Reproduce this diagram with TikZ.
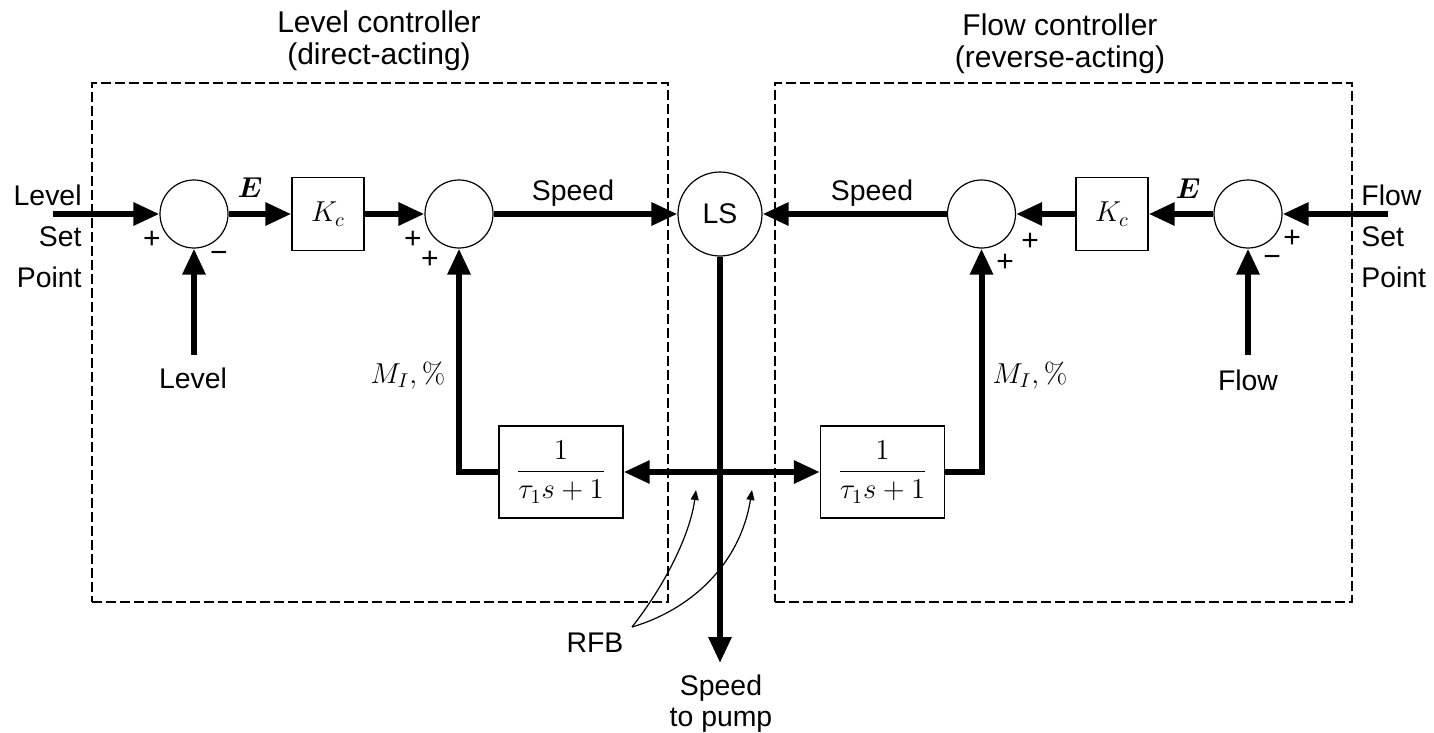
\documentclass[tikz,border=0pt]{standalone}
\usepackage{amsmath,bm}
\usepackage[no-math]{fontspec}
\setmainfont{Liberation Sans}
\usetikzlibrary{arrows.meta}
\tikzset{
  >={Triangle[length=13pt,width=11pt]},
  sig/.style={line width=3pt},
  sumj/.style={circle, draw, line width=0.6pt, minimum size=34pt, inner sep=0pt},
  lsj/.style={circle, draw, line width=0.6pt, minimum size=42pt, inner sep=0pt, font=\fontsize{14.2}{16}\selectfont},
  gainbox/.style={rectangle, draw, line width=0.7pt, minimum width=36pt, minimum height=36.5pt, inner sep=0pt, font=\fontsize{14.4}{16}\selectfont},
  filtbox/.style={rectangle, draw, line width=0.7pt, minimum width=62pt, minimum height=46pt, inner sep=0pt, font=\fontsize{14.4}{16}\selectfont},
  ctrlbox/.style={rectangle, draw, line width=0.6pt, dash pattern=on 5pt off 2pt, minimum height=259.5pt, inner sep=0pt},
  lbl/.style={font=\fontsize{14.2}{16}\selectfont, inner sep=0pt},
  ttl/.style={font=\fontsize{15}{16}\selectfont, inner sep=0pt},
  sgn/.style={font=\fontsize{15}{16}\selectfont, inner sep=0pt},
  rfbarrow/.style={line width=0.6pt, -{Triangle[length=5pt,width=4pt]}},
}
\begin{document}
\begin{tikzpicture}[x=0.5pt,y=-0.5pt]
\useasboundingbox (0,0) rectangle (1434,733);
% controller frames
\node[ctrlbox, minimum width=288pt] (boxL) at (380,342.5) {};
\node[ctrlbox, minimum width=288.5pt] (boxR) at (1063.5,342.5) {};
\node[ttl, anchor=base] (tL1) at (379,33) {Level controller};
\node[ttl, anchor=base] (tL2) at (379,65) {(direct-acting)};
\node[ttl, anchor=base] (tR1) at (1060,36) {Flow controller};
\node[ttl, anchor=base] (tR2) at (1060,68) {(reverse-acting)};
% blocks
\node[sumj] (s1) at (194,214) {};
\node[gainbox] (k1) at (328,214) {$K_c$};
\node[sumj] (s2) at (459,214) {};
\node[lsj] (ls) at (720,214) {LS};
\node[sumj] (s3) at (981.5,214) {};
\node[gainbox] (k2) at (1112,214) {$K_c$};
\node[sumj] (s4) at (1248,214) {};
\node[filtbox] (f1) at (561,472) {$\dfrac{1}{\tau_1 s+1}$};
\node[filtbox] (f2) at (882.5,472) {$\dfrac{1}{\tau_1 s+1}$};
% free ends
\coordinate (lspin) at (53,214);
\coordinate (fspin) at (1388,214);
\coordinate (lvin) at (194,355);
\coordinate (flin) at (1248,355);
\coordinate (pump) at (720,663);
% signals
\draw[sig,->] (lspin) -- (s1);
\draw[sig,->] (s1) -- (k1);
\draw[sig,->] (k1) -- (s2);
\draw[sig,->] (s2) -- (ls);
\draw[sig,->] (lvin) -- (s1);
\draw[sig,->] (fspin) -- (s4);
\draw[sig,->] (s4) -- (k2);
\draw[sig,->] (k2) -- (s3);
\draw[sig,->] (s3) -- (ls);
\draw[sig,->] (flin) -- (s4);
\draw[sig,->] (ls) -- (pump);
\draw[sig,<->] (f1) -- (f2);
\draw[sig,->] (f1.west) -| (s2.south);
\draw[sig,->] (f2.east) -| (s3.south);
% labels
\node[lbl, anchor=base east, align=right, font=\fontsize{14.2}{20.5}\selectfont] (lspt) at (82,287) {Level\\Set\\Point};
\node[lbl, anchor=base west, align=left, font=\fontsize{14.2}{20.5}\selectfont] (fspt) at (1361,287) {Flow\\Set\\Point};
\node[lbl, anchor=base] (lvl) at (193,388) {Level};
\node[lbl, anchor=base] (flw) at (1248,390) {Flow};
\node[lbl, anchor=base] (sp1) at (573,200) {Speed};
\node[lbl, anchor=base] (sp2) at (872,200) {Speed};
\node[lbl, anchor=base, font=\fontsize{14.4}{16}\selectfont] (e1) at (250,197) {$\bm{E}$};
\node[lbl, anchor=base, font=\fontsize{14.4}{16}\selectfont] (e2) at (1188,198) {$\bm{E}$};
\node[lbl, anchor=base, font=\fontsize{14.4}{16}\selectfont] (m1) at (408,383) {$M_I,\%$};
\node[lbl, anchor=base, font=\fontsize{14.4}{16}\selectfont] (m2) at (1030,383) {$M_I,\%$};
\node[sgn] (p1) at (152,240) {+};
\node[sgn] (n1) at (219,257) {−};
\node[sgn] (p2) at (413,240) {+};
\node[sgn] (p3) at (430,260) {+};
\node[sgn] (p4) at (1030,242) {+};
\node[sgn] (p5) at (1005,263) {+};
\node[sgn] (p6) at (1292,239) {+};
\node[sgn] (n2) at (1272,261) {−};
\node[lbl, anchor=base, align=center, font=\fontsize{14.2}{15.5}\selectfont] (pumpl) at (721,726) {Speed\\to pump};
\node[lbl] (rfb) at (595,643) {RFB};
\coordinate (rfbo) at (632,627);
\coordinate (rfbt1) at (696,490);
\coordinate (rfbt2) at (752,490);
\draw[rfbarrow] (rfbo) .. controls (665,585) and (690,535) .. (rfbt1);
\draw[rfbarrow] (rfbo) .. controls (690,610) and (740,565) .. (rfbt2);
\end{tikzpicture}
\end{document}
